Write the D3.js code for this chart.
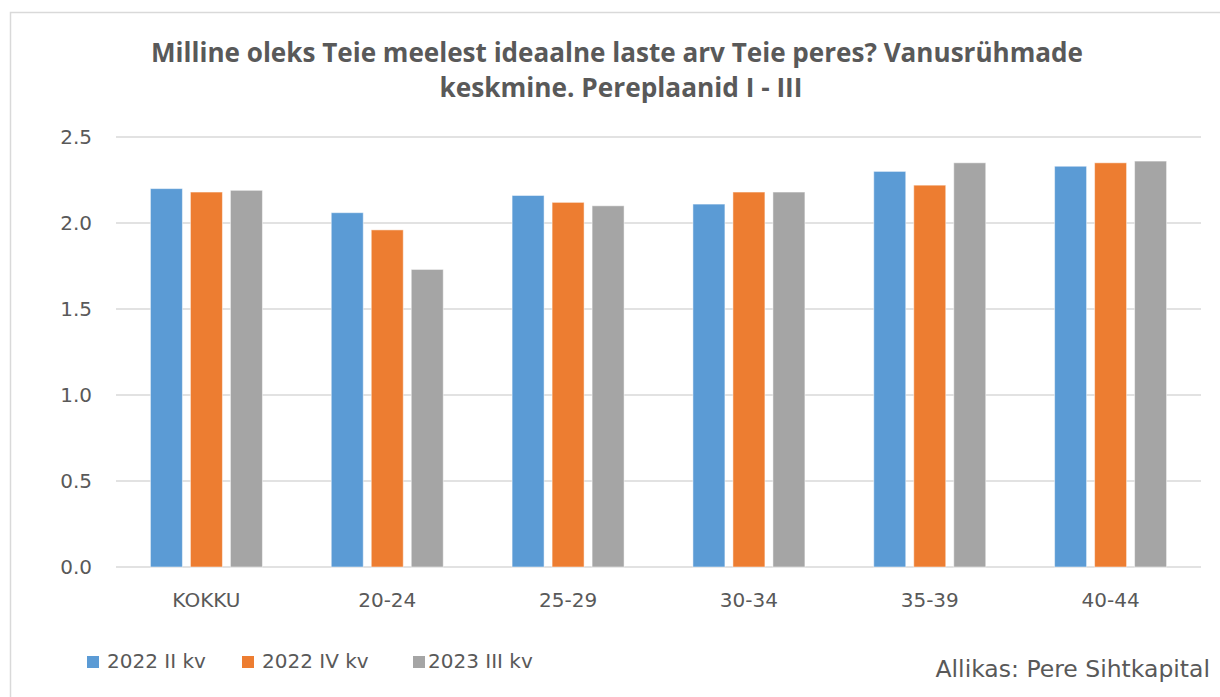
<!DOCTYPE html>
<html>
<head>
<meta charset="utf-8">
<script src="https://cdn.jsdelivr.net/npm/d3@7"></script>
<style>
  body { margin: 0; background: #fff; }
  text { font-family: "DejaVu Sans", sans-serif; fill: #595959; }
</style>
</head>
<body>
<script>
var width = 1220,
    height = 697;

// Data
var categories = ["KOKKU", "20-24", "25-29", "30-34", "35-39", "40-44"];
var seriesNames = ["2022 II kv", "2022 IV kv", "2023 III kv"];
var s2022II = [2.20, 2.06, 2.16, 2.11, 2.30, 2.33];
var s2022IV = [2.18, 1.96, 2.12, 2.18, 2.22, 2.35];
var s2023III = [2.19, 1.73, 2.10, 2.18, 2.35, 2.36];
var yTicks = [0, 0.5, 1.0, 1.5, 2.0, 2.5];
var colors = ["#5b9bd5", "#ed7d31", "#a5a5a5"];

var seriesValues = [s2022II, s2022IV, s2023III];

var margin = { top: 137, right: 19, bottom: 130, left: 116 };

var svg = d3.select("body").append("svg")
    .attr("width", width)
    .attr("height", height);

// Chart border
svg.append("rect")
    .attr("x", 10.5).attr("y", 12.5)
    .attr("width", width).attr("height", height)
    .attr("fill", "none")
    .attr("stroke", "#d9d9d9")
    .attr("stroke-width", 1.5);

// Title
var titleLines = [
    { t: "Milline oleks Teie meelest ideaalne laste arv Teie peres? Vanusrühmade", x: 617, y: 62, w: 932 },
    { t: "keskmine. Pereplaanid I - III", x: 621, y: 97, w: 363 }
];
svg.append("g")
    .selectAll("text")
    .data(titleLines)
    .enter().append("text")
    .attr("x", function (d) { return d.x; })
    .attr("y", function (d) { return d.y; })
    .attr("text-anchor", "middle")
    .attr("font-weight", "bold")
    .attr("font-size", 26)
    .attr("textLength", function (d) { return d.w; })
    .attr("lengthAdjust", "spacingAndGlyphs")
    .style("font-family", "\"Open Sans\", sans-serif")
    .text(function (d) { return d.t; });

var x0 = d3.scaleBand()
    .domain(categories)
    .range([margin.left, width - margin.right]);

var x1 = d3.scaleBand()
    .domain(seriesNames)
    .range([0, 112])
    .paddingInner(0.2);

var y = d3.scaleLinear()
    .domain([0, 2.5])
    .range([height - margin.bottom, margin.top]);

// Gridlines
svg.append("g")
    .selectAll("line")
    .data(yTicks)
    .enter().append("line")
    .attr("x1", margin.left)
    .attr("x2", width - margin.right)
    .attr("y1", function (d) { return y(d); })
    .attr("y2", function (d) { return y(d); })
    .attr("stroke", "#d9d9d9")
    .attr("stroke-width", 1.5);

// Y axis labels
var yAxis = svg.append("g")
    .attr("transform", "translate(" + (margin.left - 24) + ",0)")
    .call(d3.axisLeft(y).tickValues(yTicks).tickFormat(d3.format(".1f")).tickSize(0).tickPadding(0));
yAxis.select(".domain").remove();
yAxis.selectAll("text")
    .attr("font-size", 20)
    .attr("fill", "#595959")
    .style("font-family", "\"DejaVu Sans\", sans-serif");

// X axis labels
var xAxis = svg.append("g")
    .attr("transform", "translate(0," + (height - margin.bottom) + ")")
    .call(d3.axisBottom(x0).tickSize(0).tickPadding(0));
xAxis.select(".domain").remove();
xAxis.selectAll("text")
    .attr("dy", null)
    .attr("y", 40)
    .attr("font-size", 20)
    .attr("fill", "#595959")
    .style("font-family", "\"DejaVu Sans\", sans-serif");

// Bars
var groups = svg.append("g")
    .selectAll("g")
    .data(categories)
    .enter().append("g")
    .attr("transform", function (d) {
        return "translate(" + (x0(d) + (x0.bandwidth() - 112) / 2) + ",0)";
    });

groups.selectAll("rect")
    .data(function (d, i) {
        return seriesNames.map(function (s, j) { return { s: s, j: j, v: seriesValues[j][i] }; });
    })
    .enter().append("rect")
    .attr("x", function (d) { return x1(d.s); })
    .attr("width", x1.bandwidth())
    .attr("y", function (d) { return y(d.v); })
    .attr("height", function (d) { return y(0) - y(d.v); })
    .attr("fill", function (d) { return colors[d.j]; })
    .attr("stroke", "#fff")
    .attr("stroke-opacity", 0.5)
    .attr("stroke-width", 1);

// Legend
var legendX = [87, 242, 413];
var legend = svg.append("g")
    .selectAll("g")
    .data(seriesNames)
    .enter().append("g")
    .attr("transform", function (d, i) { return "translate(" + legendX[i] + ",656)"; });
legend.append("rect")
    .attr("width", 12).attr("height", 12)
    .attr("fill", function (d, i) { return colors[i]; });
legend.append("text")
    .attr("x", function (d, i) { return i == 2 ? 15 : 20; })
    .attr("y", 12)
    .attr("font-size", 20)
    .text(function (d) { return d; });

// Source
svg.append("text")
    .attr("x", 1210).attr("y", 677)
    .attr("text-anchor", "end")
    .attr("font-size", 23.5)
    .text("Allikas: Pere Sihtkapital");
</script>
</body>
</html>
